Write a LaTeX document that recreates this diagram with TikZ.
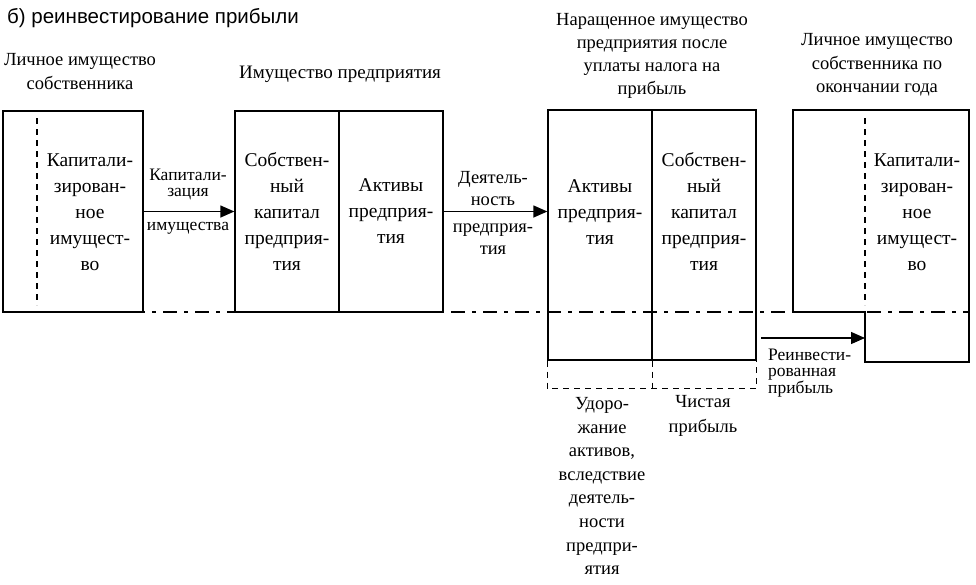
\documentclass[tikz,border=0pt]{standalone}
\usepackage{fontspec}
\setmainfont{Liberation Serif}
\newfontfamily\titlefont{Liberation Sans}
\usetikzlibrary{arrows.meta}

\begin{document}
\begin{tikzpicture}[x=1pt, y=-1pt,
  box/.style={draw, line width=1.3pt, inner sep=0pt},
  txt/.style={align=center, inner sep=0pt, font=\fontsize{19.5}{26}\selectfont},
  tight/.style={align=center, inner sep=0pt, font=\fontsize{17.5}{16}\selectfont},
  arr/.style={line width=1.3pt, -{Triangle[length=14pt,width=12pt]}},
  dashdot/.style={line width=1.3pt, dash pattern=on 14pt off 7pt on 4pt off 7pt},
  dashln/.style={line width=1.3pt, dash pattern=on 6pt off 5pt}]
\useasboundingbox (0,0) rectangle (976,584);

\node[anchor=west, inner sep=0pt, font=\titlefont\fontsize{20.5}{22}\selectfont] (title) at (7,18) {б) реинвестирование прибыли};

% dash-dot line
\draw[dashdot] (3,312) -- (969,312);

% personal property at start
\node[txt, font=\fontsize{18.5}{24}\selectfont] (lichlbl) at (80,72) {Личное имущество\\собственника};
\node[box, minimum width=140pt, minimum height=201pt] (lich) at (73,211.5) {};
\draw[dashln] (37,118) -- (37,305);
\node[txt] (lichtxt) at (90,212) {Капитали-\\зирован-\\ное\\имущест-\\во};

% company property
\node[txt, font=\fontsize{19}{24}\selectfont] (imlbl) at (340,74) {Имущество предприятия};
\node[box, txt, minimum width=104pt, minimum height=201pt] (sob) at (287,211.5) {Собствен-\\ный\\капитал\\предприя-\\тия};
\node[box, txt, minimum width=104pt, minimum height=201pt] (akt) at (391,211.5) {Активы\\предприя-\\тия};

\draw[arr] (lich.east) -- (sob.west);
\node[tight] (kapz) at (188,184) {Капитали-\\зация};
\node[tight] (imus) at (188,228) {имущества};

% increased property
\node[txt, font=\fontsize{18.5}{23}\selectfont] (narlbl) at (652,56) {Наращенное имущество\\предприятия после\\уплаты налога на\\прибыль};
\node[box, minimum width=104pt, minimum height=250pt] (akt3) at (600,235) {};
\node[box, minimum width=104pt, minimum height=250pt] (sob3) at (704,235) {};
\node[txt] (akt3txt) at (600,212) {Активы\\предприя-\\тия};
\node[txt] (sob3txt) at (704,212) {Собствен-\\ный\\капитал\\предприя-\\тия};

\draw[arr] (akt.east) -- (akt.east -| akt3.west);
\node[txt, font=\fontsize{18.5}{22}\selectfont] (deyat) at (493,189) {Деятель-\\ность};
\node[txt, font=\fontsize{18.5}{22}\selectfont] (predp) at (493,239) {предприя-\\тия};

\draw[dashln] (akt3.south west) -- ++(0,28) -| (sob3.south east);
\draw[dashln] (akt3.south east) -- ++(0,28);
\node[txt, font=\fontsize{18.5}{23.6}\selectfont] (udor) at (602,486) {Удоро-\\жание\\активов,\\вследствие\\деятель-\\ности\\предпри-\\ятия};
\node[txt, font=\fontsize{18.5}{25}\selectfont] (chist) at (703,416) {Чистая\\прибыль};

% personal property at year end
\node[txt, font=\fontsize{18.5}{23.5}\selectfont] (konlbl) at (877,65) {Личное имущество\\собственника по\\окончании года};
\draw[line width=1.3pt] (793,110) -- (969,110) -- (969,362) -- (865,362) -- (865,312) -- (793,312) -- cycle;
\draw[dashln] (865,118) -- (865,305);
\node[txt] (kontxt) at (917,212) {Капитали-\\зирован-\\ное\\имущест-\\во};

\coordinate (rfrom) at (761,338);
\coordinate (rto) at (865,338);
\draw[arr] (rfrom) -- (rto);
\node[tight, align=left, anchor=west] (reinv) at (768,373) {Реинвести-\\рованная\\прибыль};
\end{tikzpicture}
\end{document}
